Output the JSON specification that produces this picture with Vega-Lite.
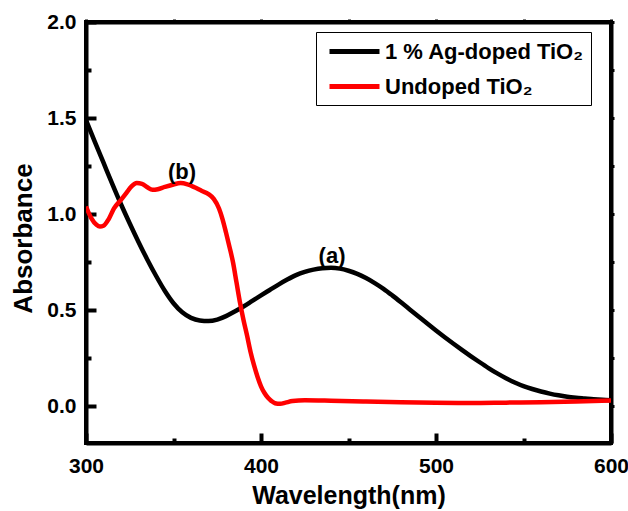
{
  "$schema": "https://vega.github.io/schema/vega-lite/v6.json",
  "autosize": {"type": "none"},
  "width": 525,
  "height": 421,
  "padding": {"left": 86, "top": 22, "right": 17, "bottom": 68},
  "background": "white",
  "config": {
    "view": {"stroke": "black", "strokeWidth": 4},
    "font": "Liberation Sans",
    "axis": {"domainColor": "black", "domainWidth": 4, "tickColor": "black", "labelColor": "black", "titleColor": "black", "labelFont": "Liberation Sans", "labelFontWeight": "bold", "titleFont": "Liberation Sans", "titleFontWeight": "bold", "grid": false}
  },
  "datasets": {
    "curves": [
      {"wl": 300, "A": 1.49, "s": "1 % Ag-doped TiO₂"},
      {"wl": 305, "A": 1.378, "s": "1 % Ag-doped TiO₂"},
      {"wl": 310, "A": 1.268, "s": "1 % Ag-doped TiO₂"},
      {"wl": 315, "A": 1.158, "s": "1 % Ag-doped TiO₂"},
      {"wl": 320, "A": 1.052, "s": "1 % Ag-doped TiO₂"},
      {"wl": 325, "A": 0.952, "s": "1 % Ag-doped TiO₂"},
      {"wl": 330, "A": 0.856, "s": "1 % Ag-doped TiO₂"},
      {"wl": 335, "A": 0.765, "s": "1 % Ag-doped TiO₂"},
      {"wl": 340, "A": 0.68, "s": "1 % Ag-doped TiO₂"},
      {"wl": 345, "A": 0.602, "s": "1 % Ag-doped TiO₂"},
      {"wl": 350, "A": 0.537, "s": "1 % Ag-doped TiO₂"},
      {"wl": 355, "A": 0.49, "s": "1 % Ag-doped TiO₂"},
      {"wl": 360, "A": 0.461, "s": "1 % Ag-doped TiO₂"},
      {"wl": 365, "A": 0.447, "s": "1 % Ag-doped TiO₂"},
      {"wl": 370, "A": 0.444, "s": "1 % Ag-doped TiO₂"},
      {"wl": 375, "A": 0.452, "s": "1 % Ag-doped TiO₂"},
      {"wl": 380, "A": 0.47, "s": "1 % Ag-doped TiO₂"},
      {"wl": 385, "A": 0.494, "s": "1 % Ag-doped TiO₂"},
      {"wl": 390, "A": 0.52, "s": "1 % Ag-doped TiO₂"},
      {"wl": 395, "A": 0.549, "s": "1 % Ag-doped TiO₂"},
      {"wl": 400, "A": 0.578, "s": "1 % Ag-doped TiO₂"},
      {"wl": 405, "A": 0.606, "s": "1 % Ag-doped TiO₂"},
      {"wl": 410, "A": 0.634, "s": "1 % Ag-doped TiO₂"},
      {"wl": 415, "A": 0.66, "s": "1 % Ag-doped TiO₂"},
      {"wl": 420, "A": 0.683, "s": "1 % Ag-doped TiO₂"},
      {"wl": 425, "A": 0.7, "s": "1 % Ag-doped TiO₂"},
      {"wl": 430, "A": 0.712, "s": "1 % Ag-doped TiO₂"},
      {"wl": 435, "A": 0.719, "s": "1 % Ag-doped TiO₂"},
      {"wl": 440, "A": 0.721, "s": "1 % Ag-doped TiO₂"},
      {"wl": 445, "A": 0.717, "s": "1 % Ag-doped TiO₂"},
      {"wl": 450, "A": 0.706, "s": "1 % Ag-doped TiO₂"},
      {"wl": 455, "A": 0.69, "s": "1 % Ag-doped TiO₂"},
      {"wl": 460, "A": 0.668, "s": "1 % Ag-doped TiO₂"},
      {"wl": 465, "A": 0.642, "s": "1 % Ag-doped TiO₂"},
      {"wl": 470, "A": 0.612, "s": "1 % Ag-doped TiO₂"},
      {"wl": 475, "A": 0.578, "s": "1 % Ag-doped TiO₂"},
      {"wl": 480, "A": 0.542, "s": "1 % Ag-doped TiO₂"},
      {"wl": 485, "A": 0.505, "s": "1 % Ag-doped TiO₂"},
      {"wl": 490, "A": 0.468, "s": "1 % Ag-doped TiO₂"},
      {"wl": 495, "A": 0.431, "s": "1 % Ag-doped TiO₂"},
      {"wl": 500, "A": 0.395, "s": "1 % Ag-doped TiO₂"},
      {"wl": 505, "A": 0.36, "s": "1 % Ag-doped TiO₂"},
      {"wl": 510, "A": 0.326, "s": "1 % Ag-doped TiO₂"},
      {"wl": 515, "A": 0.293, "s": "1 % Ag-doped TiO₂"},
      {"wl": 520, "A": 0.261, "s": "1 % Ag-doped TiO₂"},
      {"wl": 525, "A": 0.23, "s": "1 % Ag-doped TiO₂"},
      {"wl": 530, "A": 0.2, "s": "1 % Ag-doped TiO₂"},
      {"wl": 535, "A": 0.172, "s": "1 % Ag-doped TiO₂"},
      {"wl": 540, "A": 0.147, "s": "1 % Ag-doped TiO₂"},
      {"wl": 545, "A": 0.125, "s": "1 % Ag-doped TiO₂"},
      {"wl": 550, "A": 0.106, "s": "1 % Ag-doped TiO₂"},
      {"wl": 555, "A": 0.091, "s": "1 % Ag-doped TiO₂"},
      {"wl": 560, "A": 0.078, "s": "1 % Ag-doped TiO₂"},
      {"wl": 565, "A": 0.067, "s": "1 % Ag-doped TiO₂"},
      {"wl": 570, "A": 0.058, "s": "1 % Ag-doped TiO₂"},
      {"wl": 575, "A": 0.051, "s": "1 % Ag-doped TiO₂"},
      {"wl": 580, "A": 0.046, "s": "1 % Ag-doped TiO₂"},
      {"wl": 585, "A": 0.042, "s": "1 % Ag-doped TiO₂"},
      {"wl": 590, "A": 0.038, "s": "1 % Ag-doped TiO₂"},
      {"wl": 595, "A": 0.035, "s": "1 % Ag-doped TiO₂"},
      {"wl": 600, "A": 0.033, "s": "1 % Ag-doped TiO₂"},
      {"wl": 300, "A": 1.04, "s": "Undoped TiO₂"},
      {"wl": 303, "A": 0.98, "s": "Undoped TiO₂"},
      {"wl": 306, "A": 0.945, "s": "Undoped TiO₂"},
      {"wl": 308, "A": 0.936, "s": "Undoped TiO₂"},
      {"wl": 310, "A": 0.94, "s": "Undoped TiO₂"},
      {"wl": 313, "A": 0.975, "s": "Undoped TiO₂"},
      {"wl": 316, "A": 1.03, "s": "Undoped TiO₂"},
      {"wl": 320, "A": 1.075, "s": "Undoped TiO₂"},
      {"wl": 323, "A": 1.11, "s": "Undoped TiO₂"},
      {"wl": 326, "A": 1.145, "s": "Undoped TiO₂"},
      {"wl": 329, "A": 1.162, "s": "Undoped TiO₂"},
      {"wl": 332, "A": 1.158, "s": "Undoped TiO₂"},
      {"wl": 335, "A": 1.14, "s": "Undoped TiO₂"},
      {"wl": 338, "A": 1.127, "s": "Undoped TiO₂"},
      {"wl": 341, "A": 1.13, "s": "Undoped TiO₂"},
      {"wl": 345, "A": 1.142, "s": "Undoped TiO₂"},
      {"wl": 350, "A": 1.155, "s": "Undoped TiO₂"},
      {"wl": 354, "A": 1.162, "s": "Undoped TiO₂"},
      {"wl": 358, "A": 1.155, "s": "Undoped TiO₂"},
      {"wl": 362, "A": 1.14, "s": "Undoped TiO₂"},
      {"wl": 366, "A": 1.122, "s": "Undoped TiO₂"},
      {"wl": 370, "A": 1.105, "s": "Undoped TiO₂"},
      {"wl": 373, "A": 1.08, "s": "Undoped TiO₂"},
      {"wl": 376, "A": 1.03, "s": "Undoped TiO₂"},
      {"wl": 378, "A": 0.975, "s": "Undoped TiO₂"},
      {"wl": 380, "A": 0.905, "s": "Undoped TiO₂"},
      {"wl": 382, "A": 0.83, "s": "Undoped TiO₂"},
      {"wl": 384, "A": 0.75, "s": "Undoped TiO₂"},
      {"wl": 386, "A": 0.645, "s": "Undoped TiO₂"},
      {"wl": 388, "A": 0.54, "s": "Undoped TiO₂"},
      {"wl": 390, "A": 0.45, "s": "Undoped TiO₂"},
      {"wl": 392, "A": 0.37, "s": "Undoped TiO₂"},
      {"wl": 394, "A": 0.285, "s": "Undoped TiO₂"},
      {"wl": 396, "A": 0.215, "s": "Undoped TiO₂"},
      {"wl": 398, "A": 0.155, "s": "Undoped TiO₂"},
      {"wl": 400, "A": 0.105, "s": "Undoped TiO₂"},
      {"wl": 402, "A": 0.07, "s": "Undoped TiO₂"},
      {"wl": 404, "A": 0.045, "s": "Undoped TiO₂"},
      {"wl": 406, "A": 0.028, "s": "Undoped TiO₂"},
      {"wl": 408, "A": 0.017, "s": "Undoped TiO₂"},
      {"wl": 411, "A": 0.014, "s": "Undoped TiO₂"},
      {"wl": 414, "A": 0.02, "s": "Undoped TiO₂"},
      {"wl": 418, "A": 0.028, "s": "Undoped TiO₂"},
      {"wl": 425, "A": 0.032, "s": "Undoped TiO₂"},
      {"wl": 440, "A": 0.03, "s": "Undoped TiO₂"},
      {"wl": 460, "A": 0.026, "s": "Undoped TiO₂"},
      {"wl": 480, "A": 0.022, "s": "Undoped TiO₂"},
      {"wl": 500, "A": 0.019, "s": "Undoped TiO₂"},
      {"wl": 520, "A": 0.018, "s": "Undoped TiO₂"},
      {"wl": 540, "A": 0.02, "s": "Undoped TiO₂"},
      {"wl": 560, "A": 0.022, "s": "Undoped TiO₂"},
      {"wl": 580, "A": 0.026, "s": "Undoped TiO₂"},
      {"wl": 600, "A": 0.031, "s": "Undoped TiO₂"}
    ],
    "labels": [
      {"wl": 354.9, "A": 1.22, "t": "(b)"},
      {"wl": 440.6, "A": 0.785, "t": "(a)"}
    ]
  },
  "layer": [
    {
      "data": {"name": "curves"},
      "mark": {"type": "line", "strokeWidth": 4.5, "interpolate": "monotone", "clip": true},
      "encoding": {
        "x": {"field": "wl", "type": "quantitative", "scale": {"domain": [300, 600], "nice": false, "zero": false},
          "axis": {"title": "Wavelength(nm)", "orient": "bottom", "values": [300, 350, 400, 450, 500, 550, 600],
            "labelExpr": "datum.value % 100 === 0 ? datum.label : ''",
            "tickSize": {"condition": {"test": "datum.value % 100 === 0", "value": -10}, "value": -5},
            "tickWidth": 4, "labelFontSize": 21, "labelPadding": 22, "titleFontSize": 25, "titlePadding": 7, "labelFlush": false}},
        "y": {"field": "A", "type": "quantitative", "scale": {"domain": [-0.19, 2.0], "nice": false, "zero": false},
          "axis": {"title": "Absorbance", "orient": "left", "values": [0, 0.25, 0.5, 0.75, 1, 1.25, 1.5, 1.75, 2],
            "labelExpr": "datum.value % 0.5 === 0 ? format(datum.value, '.1f') : ''",
            "tickSize": {"condition": {"test": "datum.value % 0.5 === 0", "value": -10}, "value": -5},
            "tickWidth": 4, "labelFontSize": 21, "labelPadding": 20, "titleFontSize": 26, "titlePadding": 10, "titleY": 216, "labelFlush": false}},
        "color": {"field": "s", "type": "nominal",
          "scale": {"domain": ["1 % Ag-doped TiO₂", "Undoped TiO₂"], "range": ["black", "#ff0000"]},
          "legend": {"title": null, "orient": "none", "legendX": 230, "legendY": 10, "direction": "vertical",
            "symbolType": "M-0.6,0H4.4", "symbolSize": 400, "symbolStrokeWidth": 5,
            "labelFont": "Liberation Sans", "labelFontWeight": "bold", "labelFontSize": 22, "labelLimit": 400, "labelOffset": 37,
            "strokeColor": "black", "padding": 7, "rowPadding": 11, "fillColor": "white"}}
      }
    },
    {
      "data": {"name": "labels"},
      "mark": {"type": "text", "font": "Liberation Sans", "fontWeight": "bold", "fontSize": 22, "color": "black", "baseline": "middle", "align": "center"},
      "encoding": {
        "x": {"field": "wl", "type": "quantitative",
          "axis": {"orient": "top", "title": null, "labels": false, "values": [300, 350, 400, 450, 500, 550, 600], "tickSize": 3, "tickWidth": 3}},
        "y": {"field": "A", "type": "quantitative",
          "axis": {"orient": "right", "title": null, "labels": false, "values": [0, 0.25, 0.5, 0.75, 1, 1.25, 1.5, 1.75, 2], "tickSize": 3, "tickWidth": 3}},
        "text": {"field": "t", "type": "nominal"}
      }
    }
  ],
  "resolve": {"axis": {"x": "independent", "y": "independent"}}
}
